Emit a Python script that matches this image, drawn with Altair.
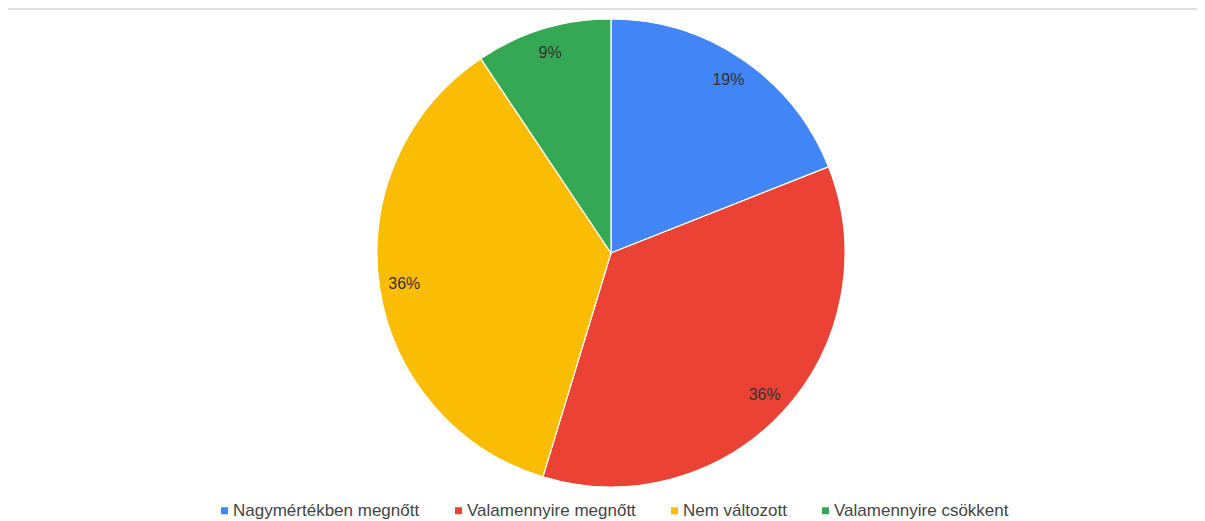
import altair as alt
import pandas as pd

categories = ["Nagymértékben megnőtt", "Valamennyire megnőtt", "Nem változott", "Valamennyire csökkent"]
values = [19.0, 35.7, 35.9, 9.4]
labels = ["19%", "36%", "36%", "9%"]
colors = ["#4285F4", "#EA4335", "#FBBC04", "#34A853"]

df = pd.DataFrame({
    "category": categories,
    "value": values,
    "label": labels,
    "order": list(range(len(categories))),
})

W, H = 1189, 513
CX, CY = 603, 245
R = 234

color_scale = alt.Scale(domain=categories, range=colors)

base = alt.Chart(df).encode(
    theta=alt.Theta("value:Q", stack=True),
    order=alt.Order("order:Q"),
)

arcs = base.mark_arc(outerRadius=R, stroke="white", strokeWidth=1.2).encode(
    x=alt.value(CX),
    y=alt.value(CY),
    color=alt.Color(
        "category:N",
        scale=color_scale,
        sort=categories,
        legend=alt.Legend(
            title=None,
            orient="none",
            legendX=208,
            legendY=494,
            direction="horizontal",
            symbolType="square",
            symbolSize=49,
            symbolStrokeWidth=0,
            labelFont="Liberation Sans",
            labelFontSize=17,
            labelLimit=0,
            labelColor="#444444",
            labelOffset=0,
            columnPadding=30,
            padding=0,
        ),
    ),
)

text = base.mark_text(
    radius=209, font="Liberation Sans", fontSize=16, color="#333333"
).encode(
    x=alt.value(CX),
    y=alt.value(CY),
    text="label:N",
)

top_rule = alt.Chart(df).mark_rule(color="#dddddd", strokeWidth=1).encode(
    x=alt.value(0), x2=alt.value(W), y=alt.value(1)
)

chart = alt.layer(top_rule, arcs, text).properties(
    width=W, height=H, autosize=alt.AutoSizeParams(type="none"), padding=0
).configure_view(stroke=None)

chart.save("out.html", embed_options={"renderer": "svg", "actions": False})
